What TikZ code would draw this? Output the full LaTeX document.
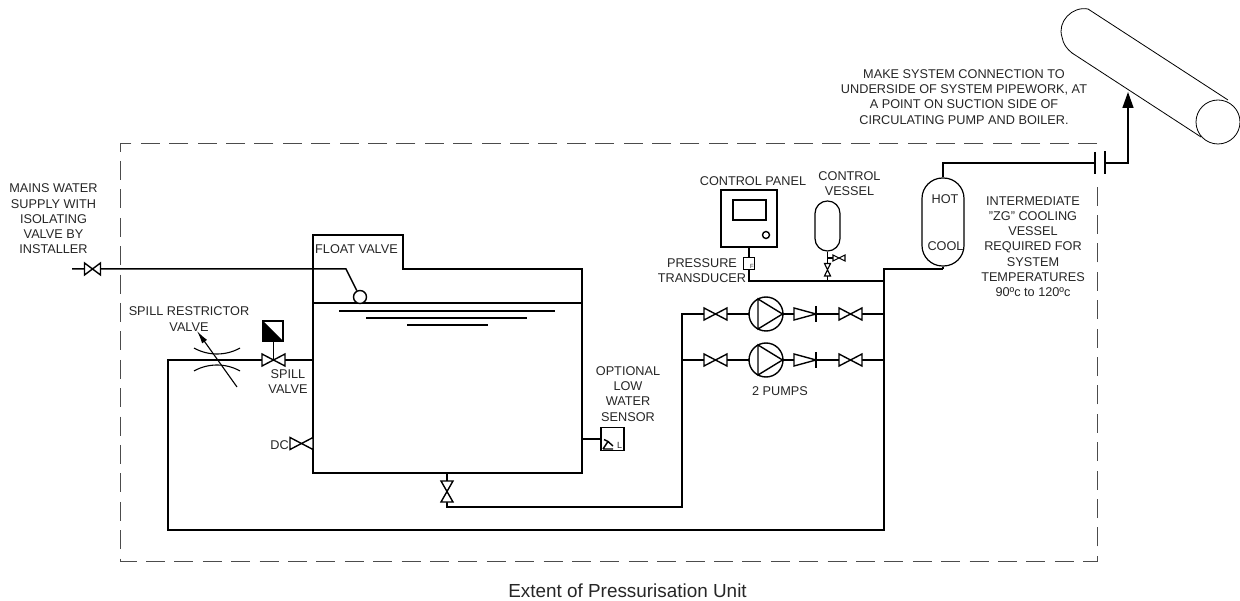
\documentclass[tikz,border=0pt]{standalone}
\usepackage{fontspec}
\usetikzlibrary{arrows.meta}
\setmainfont{Liberation Sans}
\tikzset{
  pipe/.style={draw=black,line width=1.5pt,line join=miter},
  thin pipe/.style={draw=black,line width=1.1pt},
  valvebody/.style={draw=black,line width=1.4pt,fill=white},
  lbl/.style={font=\fontsize{12.7}{15.2}\selectfont,align=center,text=black!85,inner sep=0pt},
  boundary/.style={draw=black!70,line width=1pt,dash pattern=on 19pt off 9.4pt}
}
% horizontal valve: centre, half width, half height
\newcommand{\hvalve}[4][]{\draw[valvebody,#1] (#2-#3,#4-6) -- (#2+#3,#4+6) -- (#2+#3,#4-6) -- (#2-#3,#4+6) -- cycle;}
\newcommand{\pumpsym}[3]{%
  \node[draw=black,line width=1.4pt,fill=white,circle,minimum size=34pt,inner sep=0pt] (#1) at (#2,#3) {};
  \draw[line width=1.4pt] (#2-8,#3-15) -- (#2+16.5,#3) -- (#2-8,#3+15) -- cycle;}
\newcommand{\chkvalve}[2]{%
  \draw[valvebody] (#1,#2-6) -- (#1+22,#2) -- (#1,#2+6) -- cycle;
  \draw[line width=1.4pt] (#1+22,#2-8) -- (#1+22,#2+8);}
\begin{document}
\begin{tikzpicture}[x=1pt,y=-1pt]
\useasboundingbox (0,0) rectangle (1240,601);
% extent boundary
\draw[boundary] (1097,144) -- (120,144) -- (120,561) -- (1097,561) -- (1097,182);
% tank
\draw[pipe] (313,473) -- (313,235) -- (403,235) -- (403,269) -- (582,269) -- (582,473) -- cycle;
\draw[pipe] (313,303) -- (582,303);
\draw[thin pipe] (339,311) -- (555,311);
\draw[thin pipe] (366,318) -- (527,318);
\draw[thin pipe] (407,325) -- (488,325);
% inlet
\coordinate (inA) at (72,269);
\coordinate (inB) at (346,269);
\node[draw=black,line width=1.4pt,fill=white,circle,minimum size=13pt,inner sep=0pt] (float) at (360,297) {};
\draw[pipe] (inA) -- (inB) -- (float);
\hvalve{92.5}{8}{269}
% spill loop
\coordinate (l1) at (168,360); \coordinate (l2) at (168,530); \coordinate (l3) at (884,530);
\coordinate (l4) at (884,269); \coordinate (l5) at (943,269);
\draw[pipe] (313,360) -- (l1) -- (l2) -- (l3) -- (l4) -- (l5);
% spill valve
\draw[thin pipe] (273.5,360) -- (273.5,341);
\node[draw=black,line width=1.1pt,minimum size=20pt,inner sep=0pt] (actuator) at (273,331) {};
\fill (263,321) -- (283,341) -- (263,341) -- cycle;
\draw[valvebody] (262,354) -- (285,366) -- (285,354) -- (262,366) -- cycle;
% restrictor
\draw[thin pipe] (194,348) .. controls (208,356) and (226,356) .. (240,348);
\draw[thin pipe] (194,371) .. controls (208,363) and (226,363) .. (240,371);
\draw[thin pipe,-{Latex[length=13pt,width=6pt]}] (237,387) -- (197,331);
% DC and drain
\draw[valvebody] (290,437.5) -- (313,449.5) -- (313,437.5) -- (290,449.5) -- cycle;
\draw[pipe] (447,473) -- (447,507) -- (682,507) -- (682,314) -- (884,314);
\draw[pipe] (682,360) -- (884,360);
\draw[valvebody] (441,481) -- (453,502) -- (441,502) -- (453,481) -- cycle;
% pumps
\hvalve{715.5}{11.5}{314}\hvalve{715.5}{11.5}{360}
\pumpsym{pump1}{766}{314}\pumpsym{pump2}{766}{360}
\chkvalve{794}{314}\chkvalve{794}{360}
\hvalve{850.5}{11.5}{314}\hvalve{850.5}{11.5}{360}
% sensor
\node[draw=black,line width=1.4pt,minimum size=23pt,inner sep=0pt] (sensor) at (612.5,439) {};
\draw[pipe] (582,439) -- (sensor);
\draw[line width=1.4pt] (603,449) -- (613,449) (603,449) -- (608,441.5) -- (604,439.5) (608,441.5) -- (613,446);
\node[font=\fontsize{9}{9}\selectfont,inner sep=0pt,text=black!85] (sensorL) at (619.5,445) {L};
% control panel
\node[draw=black,line width=1.4pt,minimum width=56pt,minimum height=57pt,inner sep=0pt] (panel) at (749,218.5) {};
\node[draw=black,line width=1.4pt,minimum width=33pt,minimum height=20pt,inner sep=0pt] (screen) at (749.5,210) {};
\node[draw=black,line width=1.4pt,circle,minimum size=7pt,inner sep=0pt] (knob) at (766,235) {};
\node[draw=black,line width=1.4pt,minimum size=11.5pt,inner sep=0pt] (trans) at (749,263.5) {};
\node[font=\fontsize{6}{6}\selectfont,inner sep=0pt,text=black!85] (transF) at (752,266) {F};
\draw[thin pipe] (panel.south) -- (trans.north);
\draw[pipe] (trans.south) -- (749,281) -- (884,281);
% control vessel
\node[draw=black,line width=1.2pt,rounded corners=12.4pt,minimum width=25pt,minimum height=50pt,inner sep=0pt] (cvessel) at (827.5,226) {};
\draw[pipe] (cvessel.south) -- (827.5,281);
\draw[thin pipe] (827.5,258) -- (833,258);
\draw[valvebody,line width=1.1pt] (833,255) -- (845,261) -- (845,255) -- (833,261) -- cycle;
\draw[valvebody,line width=1.1pt] (824.5,263.5) -- (830.5,276) -- (824.5,276) -- (830.5,263.5) -- cycle;
% hot vessel
\node[draw=black,line width=1.2pt,rounded corners=20.5pt,minimum width=42pt,minimum height=88pt,inner sep=0pt] (hvessel) at (943,222) {};
\coordinate (h1) at (943,163); \coordinate (h2) at (1095,163);
\draw[pipe] (hvessel.south) -- (l5);
\draw[pipe] (hvessel.north) -- (h1) -- (h2);
\draw[line width=1.4pt] (h2)+(0,-11) -- +(0,11);
\coordinate (h3) at (1105,163);
\draw[line width=1.4pt] (h3)+(0,-11.5) -- +(0,11.5);
\coordinate (h4) at (1128,163); \coordinate (h5) at (1128,92);
\draw[pipe,-{Triangle[length=16pt,width=11pt]}] (h3) -- (h4) -- (h5);
% system pipe
\draw[line width=0.8pt] (1088,9) -- (1228,100);
\draw[line width=0.8pt] (1072,53) -- (1201,137);
\draw[line width=0.8pt] (1088,9) .. controls (1072,6) and (1057,22) .. (1062,37) .. controls (1063,44) and (1067,49) .. (1072,53);
\node[draw=black,line width=0.8pt,circle,minimum size=44pt,inner sep=0pt] (pipeEnd) at (1218,122) {};
% labels
\node[lbl] (t1) at (964,97) {MAKE SYSTEM CONNECTION TO\\UNDERSIDE OF SYSTEM PIPEWORK, AT\\A POINT ON SUCTION SIDE OF\\CIRCULATING PUMP AND BOILER.};
\node[lbl] (t2) at (53.5,219) {MAINS WATER\\SUPPLY WITH\\ISOLATING\\VALVE BY\\INSTALLER};
\node[lbl,anchor=west] (t3) at (315,249) {FLOAT VALVE};
\node[lbl] (t4) at (189,319) {SPILL RESTRICTOR\\VALVE};
\node[lbl] (t5) at (288,381.5) {SPILL\\VALVE};
\node[lbl] (t6) at (279.5,445.5) {DC};
\node[lbl] (t7) at (628,394) {OPTIONAL\\LOW\\WATER\\SENSOR};
\node[lbl] (t8) at (780,391) {2 PUMPS};
\node[lbl] (t9) at (753,181) {CONTROL PANEL};
\node[lbl] (t10) at (849.5,184) {CONTROL\\VESSEL};
\node[lbl] (t11) at (702,270.5) {PRESSURE\\TRANSDUCER};
\node[lbl] (t12) at (945,199.5) {HOT};
\node[lbl] (t13) at (945.5,246) {COOL};
\node[lbl] (t14) at (1033,246.5) {INTERMEDIATE\\"ZG" COOLING\\VESSEL\\REQUIRED FOR\\SYSTEM\\TEMPERATURES\\90ºc to 120ºc};
\node[font=\fontsize{18.9}{21}\selectfont,inner sep=0pt,text=black!85] (t15) at (627.5,591) {Extent of Pressurisation Unit};
\end{tikzpicture}
\end{document}
